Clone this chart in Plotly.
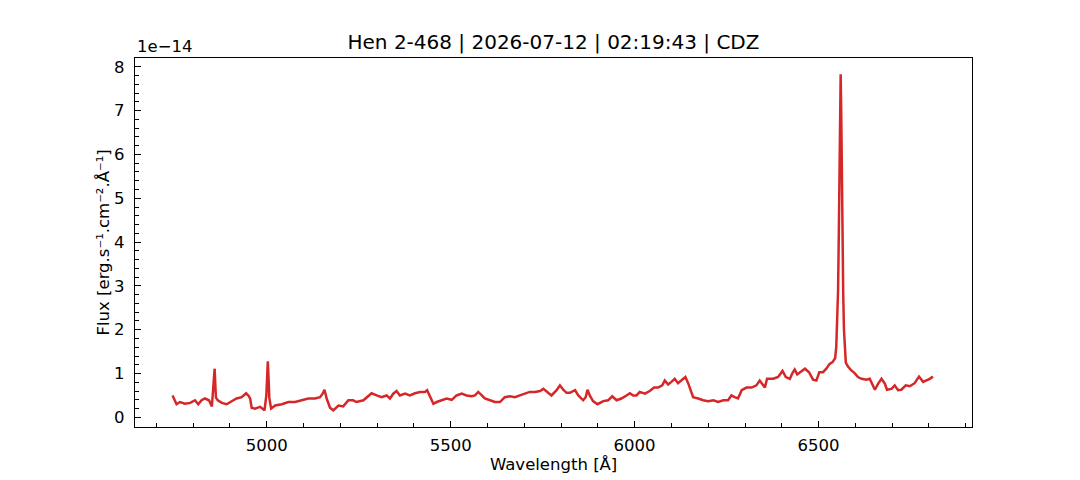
import plotly.graph_objects as go

title_text = "Hen 2-468 | 2026-07-12 | 02:19:43 | CDZ"

wavelength = [
    4744, 4749, 4755, 4764, 4778, 4792, 4805, 4814, 4823, 4832, 4843, 4851,
    4855, 4857, 4858.5, 4860, 4862, 4867, 4878, 4891, 4905, 4918, 4932, 4944,
    4950, 4955, 4959, 4968, 4982, 4994, 4999, 5001, 5003, 5005, 5007, 5012,
    5023, 5041, 5059, 5077, 5095, 5113, 5131, 5145, 5152, 5157, 5163, 5172,
    5181, 5195, 5208, 5222, 5235, 5244, 5263, 5276, 5285, 5299, 5312, 5326,
    5335, 5344, 5353, 5362, 5376, 5389, 5403, 5417, 5430, 5436, 5444, 5453,
    5462, 5475, 5489, 5503, 5516, 5530, 5543, 5557, 5566, 5575, 5584, 5593,
    5607, 5620, 5634, 5647, 5661, 5675, 5688, 5702, 5715, 5729, 5743, 5752,
    5761, 5774, 5788, 5797, 5806, 5815, 5824, 5838, 5847, 5860, 5867, 5872,
    5878, 5887, 5899, 5915, 5928, 5939, 5951, 5964, 5978, 5987, 5996, 6005,
    6014, 6028, 6041, 6053, 6064, 6075, 6082, 6091, 6100, 6109, 6118, 6127,
    6138, 6146, 6153, 6159, 6173, 6186, 6200, 6214, 6227, 6241, 6254, 6263,
    6272, 6281, 6291, 6304, 6318, 6331, 6340, 6349, 6354, 6360, 6377, 6390,
    6402, 6411, 6422, 6429, 6435, 6442, 6449, 6463, 6474, 6485, 6494, 6502,
    6512, 6521, 6530, 6538, 6541, 6545, 6548, 6551, 6553, 6555, 6557, 6558.5,
    6560, 6561.5, 6563, 6565, 6567, 6569, 6571, 6574, 6580, 6589, 6598, 6607,
    6617, 6630, 6639, 6648, 6653, 6662, 6671, 6680, 6686, 6698, 6707, 6716,
    6725, 6737, 6748, 6761, 6773, 6784, 6793, 6802, 6811,
]

# flux in units of 1e-14 erg s^-1 cm^-2 A^-1
flux_1e14 = [
    0.50, 0.39, 0.30, 0.35, 0.31, 0.33, 0.39, 0.30, 0.39, 0.43, 0.39, 0.25,
    0.70, 1.00, 1.11, 0.80, 0.45, 0.39, 0.33, 0.30, 0.37, 0.43, 0.46, 0.55,
    0.50, 0.43, 0.22, 0.20, 0.24, 0.16, 0.50, 1.00, 1.28, 0.90, 0.45, 0.20,
    0.27, 0.30, 0.35, 0.35, 0.39, 0.43, 0.43, 0.46, 0.54, 0.63, 0.43, 0.22,
    0.16, 0.27, 0.25, 0.39, 0.39, 0.35, 0.39, 0.48, 0.55, 0.50, 0.46, 0.50,
    0.43, 0.54, 0.60, 0.50, 0.54, 0.50, 0.55, 0.58, 0.58, 0.62, 0.46, 0.31,
    0.35, 0.39, 0.43, 0.40, 0.50, 0.54, 0.50, 0.48, 0.50, 0.58, 0.50, 0.43,
    0.39, 0.35, 0.35, 0.46, 0.48, 0.46, 0.50, 0.54, 0.58, 0.58, 0.60, 0.65,
    0.58, 0.50, 0.62, 0.73, 0.63, 0.56, 0.56, 0.62, 0.50, 0.39, 0.46, 0.63,
    0.50, 0.37, 0.30, 0.37, 0.39, 0.48, 0.39, 0.43, 0.50, 0.55, 0.50, 0.50,
    0.58, 0.54, 0.60, 0.68, 0.68, 0.73, 0.84, 0.75, 0.81, 0.88, 0.78, 0.84,
    0.92, 0.77, 0.58, 0.46, 0.43, 0.39, 0.37, 0.39, 0.35, 0.39, 0.39, 0.50,
    0.46, 0.43, 0.62, 0.68, 0.68, 0.73, 0.84, 0.75, 0.68, 0.88, 0.88, 0.92,
    1.06, 0.92, 0.88, 1.01, 1.09, 0.98, 1.03, 1.11, 1.03, 0.86, 0.84, 1.03,
    1.03, 1.11, 1.22, 1.26, 1.30, 1.35, 1.60, 2.20, 2.90, 4.20, 5.80, 7.00,
    7.83, 7.00, 5.60, 4.00, 2.80, 2.00, 1.55, 1.25, 1.16, 1.07, 1.01, 0.92,
    0.88, 0.86, 0.88, 0.69, 0.63, 0.77, 0.88, 0.77, 0.63, 0.65, 0.73, 0.62,
    0.63, 0.73, 0.71, 0.78, 0.93, 0.81, 0.84, 0.88, 0.93,
]

x_tickvals = [5000, 5500, 6000, 6500]
y_tickvals = [0, 1, 2, 3, 4, 5, 6, 7, 8]

font_family = "DejaVu Sans"
red = "#d62728"
fs = 16.5

# page body has an 8px margin: offset margins so the plot box lands at 135..972 x 58..427
off = 8
ml, mr, mt, mb = 135 - off, 1080 - 972 + off, 58 - off, 480 - 427 + off

fig = go.Figure()
fig.add_trace(go.Scatter(
    x=wavelength, y=flux_1e14, mode="lines",
    line=dict(color=red, width=2.5), showlegend=False, hoverinfo="x+y",
))

axis_common = dict(
    showgrid=False, zeroline=False, showline=True, linecolor="black",
    linewidth=1.3, mirror=True, ticks="inside", ticklen=6, tickwidth=1.3,
    tickcolor="black", tickfont=dict(family=font_family, size=fs, color="black"),
)

fig.update_xaxes(
    **axis_common, range=[4642, 6917], tickvals=x_tickvals,
    ticktext=[str(v) for v in x_tickvals],
    minor=dict(ticks="inside", ticklen=3.5, tickwidth=1.1, tickcolor="black", dtick=100, tick0=0),
    ticklabelstandoff=3,
)
fig.update_yaxes(
    **axis_common, range=[-0.22, 8.2], tickvals=y_tickvals,
    ticktext=[str(v) for v in y_tickvals],
    minor=dict(ticks="inside", ticklen=3.5, tickwidth=1.1, tickcolor="black", dtick=0.2, tick0=0),
    ticklabelstandoff=6,
)

plot_w = 1080 - ml - mr
fig.update_layout(
    width=1080, height=480,
    margin=dict(l=ml, r=mr, t=mt, b=mb),
    paper_bgcolor="white", plot_bgcolor="white",
    font=dict(family=font_family, size=fs, color="black"),
    title=dict(text=title_text, x=(ml + plot_w / 2) / 1080, xanchor="center",
               y=1 - (42 - off) / 480, yanchor="middle",
               font=dict(family=font_family, size=20, color="black")),
    annotations=[
        dict(text="1e\u221214", xref="paper", yref="paper", x=0, y=1,
             xanchor="left", yanchor="bottom", yshift=0, showarrow=False,
             font=dict(family=font_family, size=fs, color="black")),
        dict(text="Wavelength [\u00c5]", xref="paper", yref="paper", x=0.5, y=0,
             xanchor="center", yanchor="middle", yshift=-37, showarrow=False,
             font=dict(family=font_family, size=fs, color="black")),
        dict(text="Flux [erg.s\u207b\u00b9.cm\u207b\u00b2.\u00c5\u207b\u00b9]",
             xref="paper", yref="paper", x=0, y=0.5, textangle=-90,
             xanchor="center", yanchor="middle", xshift=-32, showarrow=False,
             font=dict(family=font_family, size=fs, color="black")),
    ],
)

fig.write_html("out.html")
